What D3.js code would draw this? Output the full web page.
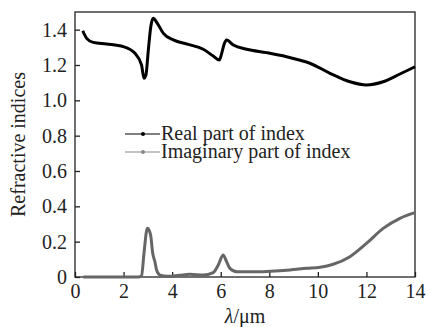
<!DOCTYPE html>
<html><head><meta charset="utf-8">
<script src="https://cdn.jsdelivr.net/npm/d3@7"></script>
<style>body{margin:0;background:#fff}svg{display:block}</style>
</head><body><svg id="c" width="428" height="327" font-family="Liberation Serif"></svg>
<script>
const xTicks = [0,2,4,6,8,10,12,14];
const yTicks = [0,0.2,0.4,0.6,0.8,1.0,1.2,1.4];
const yTickLabels = ["0","0.2","0.4","0.6","0.8","1.0","1.2","1.4"];
const seriesNames = ["Real part of index","Imaginary part of index"];
const realX = [0.32,0.48,0.75,1.3,1.99,2.47,2.74,2.84,2.92,3.02,3.12,3.22,3.39,3.64,4.05,4.66,5.28,5.69,5.94,6.04,6.13,6.24,6.52,7.07,7.89,8.71,9.23,9.67,10.5,11.32,12.0,12.69,13.38,14.0];
const realY = [1.394,1.351,1.328,1.319,1.304,1.266,1.20,1.125,1.143,1.285,1.417,1.464,1.436,1.379,1.342,1.317,1.289,1.251,1.228,1.266,1.313,1.341,1.313,1.289,1.270,1.247,1.228,1.21,1.153,1.105,1.087,1.105,1.149,1.19];
const imagX = [0.34,1.5,2.6,2.74,2.84,2.98,3.06,3.12,3.2,3.29,3.36,3.5,3.8,4.3,4.73,5.28,5.69,5.9,6.1,6.24,6.38,6.66,7.48,8.85,9.54,10.09,10.63,11.32,12.0,12.69,13.38,14.0];
const imagY = [0.0,0.0,0.0,0.005,0.134,0.276,0.262,0.232,0.134,0.087,0.04,0.011,0.004,0.01,0.015,0.011,0.025,0.068,0.125,0.087,0.049,0.03,0.03,0.04,0.049,0.055,0.072,0.115,0.19,0.275,0.332,0.364];

const FONT="Liberation Serif", FS=20;
const svg = d3.select("#c");
const L=75,R=415,T=12,B=277;
const x = d3.scaleLinear().domain([0,14]).range([L,R]);
const y = d3.scaleLinear().domain([0,1.5]).range([B,T]);
const ink="#222";

svg.append("rect").attr("x",L).attr("y",T).attr("width",R-L).attr("height",B-T)
  .attr("fill","none").attr("stroke",ink).attr("stroke-width",1.3);

const xa = svg.append("g").attr("transform",`translate(0,${B})`)
  .call(d3.axisBottom(x).tickValues(xTicks).tickSize(-5).tickPadding(7).tickFormat(d=>d));
const ya = svg.append("g").attr("transform",`translate(${L},0)`)
  .call(d3.axisLeft(y).tickValues(yTicks).tickSize(-5).tickPadding(8).tickFormat((d,i)=>yTickLabels[i]));
[xa,ya].forEach(a=>{
  a.attr("font-family",FONT).attr("font-size",FS);
  a.select(".domain").remove();
  a.selectAll(".tick line").attr("stroke",ink).attr("stroke-width",1.3);
  a.selectAll("text").attr("fill",ink);
});

const line = d3.line().x(d=>x(d[0])).y(d=>y(d[1])).curve(d3.curveMonotoneX);
const real = realX.map((v,i)=>[v,realY[i]]);
const imag = imagX.map((v,i)=>[v,imagY[i]]);
svg.append("path").datum(imag).attr("d",line).attr("fill","none").attr("stroke","#666").attr("stroke-width",3);
svg.append("path").datum(real).attr("d",line).attr("fill","none").attr("stroke","#000").attr("stroke-width",3);

const lg = [[seriesNames[0],"#000",134],[seriesNames[1],"#888",152]];
lg.forEach(([name,col,ly])=>{
  svg.append("line").attr("x1",125).attr("x2",160).attr("y1",ly).attr("y2",ly).attr("stroke",col).attr("stroke-width",1.2);
  svg.append("circle").attr("cx",143).attr("cy",ly).attr("r",2).attr("fill",col);
  svg.append("text").attr("x",161).attr("y",ly+6).text(name).attr("fill",ink)
    .attr("font-family",FONT).attr("font-size",FS);
});

const xt = svg.append("text").attr("x",(L+R)/2).attr("y",323).attr("text-anchor","middle")
  .attr("font-family",FONT).attr("font-size",FS).attr("fill",ink);
xt.append("tspan").attr("font-style","italic").text("λ");
xt.append("tspan").text("/μm");
svg.append("text").attr("transform",`translate(25,${(T+B)/2}) rotate(-90)`).attr("text-anchor","middle")
  .attr("font-family",FONT).attr("font-size",FS).attr("fill",ink).text("Refractive indices");
</script></body></html>
